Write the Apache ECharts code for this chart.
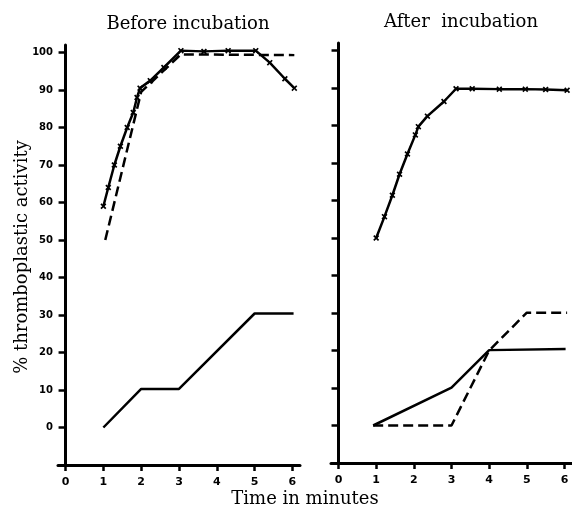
<!DOCTYPE html>
<html><head><meta charset="utf-8">
<script src="https://cdn.jsdelivr.net/npm/echarts@6/dist/echarts.min.js"></script>
<style>html,body{margin:0;padding:0;background:#fff}#c{width:572px;height:512px}</style>
</head><body><div id="c"></div>
<script>
// ---- data ----
var xTicks = [0, 1, 2, 3, 4, 5, 6];
var yTicks = [0, 10, 20, 30, 40, 50, 60, 70, 80, 90, 100];

// Before incubation
var beforeCrossX = [1, 1.13, 1.29, 1.45, 1.63, 1.79, 1.89, 1.97, 2.24, 2.6, 3.05, 3.66, 4.3, 5.03, 5.4, 5.8, 6.05];
var beforeCrossY = [59, 64, 70, 75, 80, 84, 88, 90.5, 92.5, 96, 100.5, 100.3, 100.5, 100.5, 97.3, 93, 90.5];
var beforeDashX = [1.05, 2, 3.05, 6.05];
var beforeDashY = [50, 89.5, 99.5, 99.3];
var beforeSolidX = [1, 2, 3, 5, 6.03];
var beforeSolidY = [0, 10.3, 10.3, 30.4, 30.4];

// After incubation
var afterCrossX = [1.0, 1.22, 1.43, 1.62, 1.83, 2.04, 2.12, 2.36, 2.8, 3.12, 3.55, 4.27, 4.96, 5.5, 6.07];
var afterCrossY = [50, 55.7, 61.4, 67, 72.4, 77.5, 79.7, 82.5, 86.4, 89.8, 89.8, 89.7, 89.7, 89.6, 89.4];
var afterSolidX = [0.92, 3, 4, 6.03];
var afterSolidY = [0, 10.1, 20.1, 20.4];
var afterDashX = [0.92, 3, 4, 5, 6.07];
var afterDashY = [0, 0, 20, 30.1, 30.1];

function pairs(xs, ys) { return xs.map(function (x, i) { return [x, ys[i]]; }); }

var crossPath = 'path://M0,2L2,0L5,3L8,0L10,2L7,5L10,8L8,10L5,7L2,10L0,8L3,5Z';
var serif = '"DejaVu Serif", "Liberation Serif", serif';
var tickFont = { fontFamily: '"DejaVu Sans", sans-serif', fontWeight: 'bold', fontSize: 11, color: '#000' };

function xAx(gi) {
  return {
    type: 'value', gridIndex: gi, min: -0.2, max: 6.2,
    axisLine: { show: true, onZero: false, lineStyle: { color: '#000', width: 3 } },
    axisTick: { show: true, customValues: xTicks, length: 6, lineStyle: { color: '#000', width: 2.5 } },
    axisLabel: Object.assign({ customValues: xTicks, margin: 12 }, tickFont),
    splitLine: { show: false }
  };
}
function yAx(gi, showLabels) {
  return {
    type: 'value', gridIndex: gi, min: -10, max: 102,
    axisLine: { show: true, onZero: true, lineStyle: { color: '#000', width: 3 } },
    axisTick: { show: true, customValues: yTicks, length: 7, lineStyle: { color: '#000', width: 2.5 } },
    axisLabel: Object.assign({ show: showLabels, customValues: yTicks, margin: 5 }, tickFont, { fontSize: 10 }),
    splitLine: { show: false }
  };
}
function ln(gi, xs, ys, dashed, crossed) {
  return {
    type: 'line', xAxisIndex: gi, yAxisIndex: gi, data: pairs(xs, ys),
    symbol: crossed ? crossPath : 'none', symbolSize: 6, showSymbol: !!crossed,
    itemStyle: { color: '#000' },
    lineStyle: { color: '#000', width: 2.5, type: dashed ? [10, 5] : 'solid' },
    animation: false, z: 3
  };
}

var chart = echarts.init(document.getElementById('c'), null, { renderer: 'canvas' });
chart.setOption({
  backgroundColor: '#fff',
  animation: false,
  title: [
    { text: 'Before incubation', left: 183, top: 10, textAlign: 'center', textStyle: { fontFamily: serif, fontSize: 18, fontWeight: 'normal', color: '#000' } },
    { text: 'After  incubation', left: 456, top: 8, textAlign: 'center', textStyle: { fontFamily: serif, fontSize: 18, fontWeight: 'normal', color: '#000' } },
    { text: 'Time in minutes', left: 300, top: 485, textAlign: 'center', textStyle: { fontFamily: serif, fontSize: 18, fontWeight: 'normal', color: '#000' } }
  ],
  graphic: [
    { type: 'text', x: 22, y: 257, rotation: Math.PI / 2,
      style: { text: '% thromboplastic activity', font: '18px ' + serif, fill: '#000', align: 'center', verticalAlign: 'middle' } }
  ],
  grid: [
    { left: 58, width: 242, top: 45, height: 420, containLabel: false, outerBoundsMode: 'none' },
    { left: 331, width: 241, top: 43, height: 420, containLabel: false, outerBoundsMode: 'none' }
  ],
  xAxis: [xAx(0), xAx(1)],
  yAxis: [yAx(0, true), yAx(1, false)],
  series: [
    ln(0, beforeCrossX, beforeCrossY, false, true),
    ln(0, beforeDashX, beforeDashY, true, false),
    ln(0, beforeSolidX, beforeSolidY, false, false),
    ln(1, afterCrossX, afterCrossY, false, true),
    ln(1, afterSolidX, afterSolidY, false, false),
    ln(1, afterDashX, afterDashY, true, false)
  ]
});
</script></body></html>
